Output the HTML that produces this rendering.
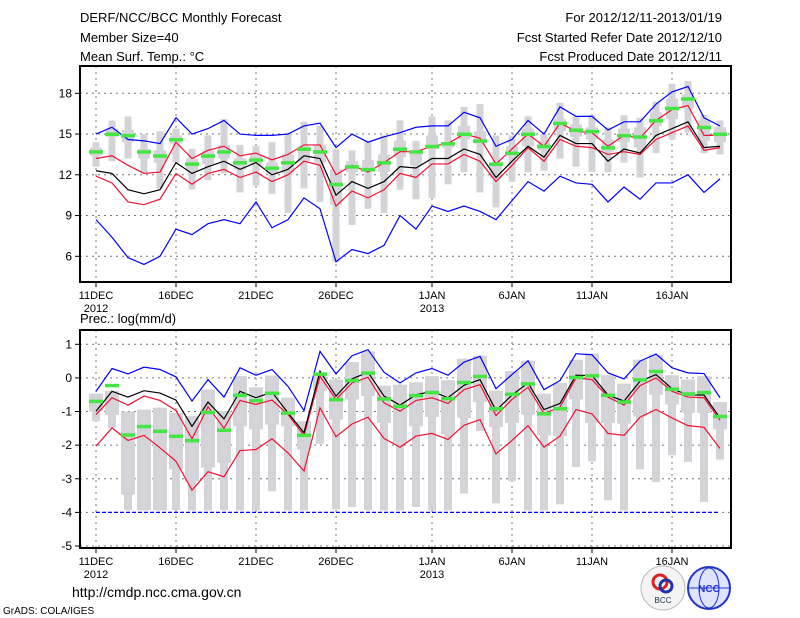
<!DOCTYPE html>
<html><head><meta charset="utf-8"><style>
body{margin:0;background:#fff;width:800px;height:618px;overflow:hidden}
svg{display:block;font-family:"Liberation Sans",sans-serif}
</style></head><body>
<svg id="c" width="800" height="618" viewBox="0 0 800 618">
<text x="80" y="22" font-size="13">DERF/NCC/BCC Monthly Forecast</text>
<text x="80" y="42" font-size="13">Member Size=40</text>
<text x="80" y="61" font-size="13">Mean Surf. Temp.: °C</text>
<text x="722" y="22" font-size="13" text-anchor="end">For 2012/12/11-2013/01/19</text>
<text x="722" y="42" font-size="13" text-anchor="end">Fcst Started Refer Date 2012/12/10</text>
<text x="722" y="61" font-size="13" text-anchor="end">Fcst Produced Date 2012/12/11</text>
<text x="80" y="323" font-size="13">Prec.: log(mm/d)</text>
<text x="72" y="597" font-size="14">http://cmdp.ncc.cma.gov.cn</text>
<text x="3" y="614" font-size="10">GrADS: COLA/IGES</text>
<g><circle cx="663" cy="588" r="22" fill="#f4f4f4" stroke="#bbb"/><circle cx="660" cy="582" r="7" fill="none" stroke="#d22" stroke-width="3"/><circle cx="666" cy="586" r="6" fill="none" stroke="#23a" stroke-width="3"/><text x="663" y="603" font-size="8" text-anchor="middle" fill="#234">BCC</text></g>
<g><circle cx="709" cy="588" r="21" fill="#dde4ff" stroke="#2233cc" stroke-width="2"/><ellipse cx="709" cy="588" rx="10" ry="20" fill="none" stroke="#2233cc"/><line x1="689" y1="588" x2="729" y2="588" stroke="#2233cc"/><text x="709" y="592" font-size="10" text-anchor="middle" fill="#2233cc" font-weight="bold">NCC</text></g>
<g id="g"></g>
</svg>
<script>
// ---- temperature panel data ----
const days=[...Array(40).keys()];
const xTickDays=[0,5,10,15,21,26,31,36];
const xTickLabels=["11DEC","16DEC","21DEC","26DEC","1JAN","6JAN","11JAN","16JAN"];
const yearLabels=[[0,"2012"],[21,"2013"]];
const tTicks=[6,9,12,15,18];
const tMax=[15.0,15.5,14.6,14.5,14.3,16.2,15.0,15.4,16.0,15.0,14.9,14.9,15.0,15.6,15.8,14.0,15.0,14.4,14.8,15.1,15.5,15.6,15.6,16.6,16.2,14.1,14.6,16.0,15.0,17.0,16.3,16.3,15.3,15.9,15.9,17.2,18.1,18.5,16.2,15.6];
const tMin=[8.7,7.4,5.9,5.4,6.0,8.0,7.6,8.4,8.7,8.4,10.0,8.1,8.7,10.3,9.5,5.6,6.5,6.2,6.8,9.0,8.0,9.7,9.3,9.7,9.3,8.7,10.1,11.5,10.8,11.9,11.4,11.3,10.0,11.1,10.2,11.4,11.4,12.0,10.7,11.7];
const tMean=[12.3,12.1,10.9,10.6,10.9,12.9,12.1,12.6,13.0,12.4,12.9,12.0,12.4,13.4,13.2,10.5,11.5,11.0,11.5,12.6,12.5,13.2,13.2,13.9,13.5,11.8,13.0,14.1,13.3,14.9,14.3,14.3,13.0,13.9,13.6,14.9,15.4,15.9,14.0,14.1];
const tUp=[13.2,13.4,12.7,12.1,12.2,14.4,13.2,13.8,14.1,13.4,13.6,13.1,13.5,14.2,14.2,12.0,12.7,12.2,12.9,13.7,13.7,14.1,14.3,15.0,14.7,12.8,13.9,15.0,14.1,15.8,15.2,15.1,14.1,14.9,14.7,16.0,16.8,17.1,14.9,14.9];
const tLo=[11.9,11.4,10.0,9.8,10.2,12.1,11.3,12.1,12.4,11.8,12.2,11.5,12.0,13.0,12.7,9.7,10.8,10.3,10.9,12.1,11.8,12.8,12.8,13.5,13.0,11.5,12.7,14.0,13.0,14.6,14.1,14.0,13.5,13.7,13.5,14.6,15.1,15.6,13.8,14.0];
const tGreen=[13.7,15.0,14.9,13.7,13.4,14.6,12.8,13.4,13.7,12.9,13.1,12.5,12.9,13.9,13.7,11.3,12.6,12.4,12.9,13.9,13.7,14.1,14.3,15.0,14.5,12.8,13.6,15.0,14.1,15.8,15.3,15.2,14.0,14.9,14.8,16.0,16.9,17.6,15.5,15.0];
const tBoxHi=[14.4,16.0,16.3,15.0,15.2,15.4,13.9,14.9,16.1,14.2,14.1,14.4,15.1,15.9,15.6,13.9,13.8,14.5,14.9,16.0,14.5,16.3,16.0,17.0,17.2,14.9,14.9,16.3,15.0,17.3,16.3,16.4,15.5,16.4,16.2,17.4,18.7,18.9,16.4,16.0];
const tBoxLo=[12.6,13.0,13.2,12.1,11.0,12.9,10.9,11.6,12.1,10.7,11.2,10.6,9.2,11.0,10.0,5.6,8.3,9.5,9.2,10.9,10.2,10.3,11.3,12.2,10.7,9.6,11.5,12.2,12.3,13.2,12.6,12.2,12.2,12.9,11.8,13.6,14.6,15.1,13.6,13.5];
const tQHi=[14.0,15.4,15.3,13.9,13.8,14.9,13.2,13.8,14.2,13.2,13.5,12.9,13.5,14.1,14.2,12.4,13.0,13.1,13.5,14.5,13.8,14.9,14.4,15.6,15.2,12.9,14.1,15.4,14.5,16.1,15.7,15.5,14.6,15.4,15.5,16.6,17.6,17.9,16.0,15.5];
const tQLo=[13.4,14.8,14.4,13.2,12.9,14.3,12.3,12.8,13.2,12.4,12.7,12.1,12.1,13.0,12.9,9.8,12.2,12.2,12.2,13.3,12.7,13.9,14.0,14.6,14.3,11.7,13.4,14.1,13.8,15.2,14.8,14.6,13.7,14.4,14.0,15.6,16.1,16.9,14.5,14.4];
// ---- precipitation panel data ----
const pTicks=[-5,-4,-3,-2,-1,0,1];
const pMax=[-0.4,0.28,0.12,0.32,0.25,0.03,-0.69,-0.05,-0.57,0.3,0.08,0.25,-0.25,-0.97,0.79,0.12,0.66,0.84,0.17,-0.15,0.15,0.28,0.08,0.47,0.64,-0.32,0.1,0.51,-0.35,-0.08,0.72,0.69,0.15,-0.03,0.5,0.71,0.3,0.15,0.13,-0.59];
const pMinLine=-4;
const pMean=[-0.99,-0.4,-0.57,-0.38,-0.45,-0.66,-1.44,-0.72,-1.22,-0.4,-0.59,-0.42,-1.04,-1.63,0.2,-0.54,-0.03,0.17,-0.54,-0.81,-0.5,-0.4,-0.59,-0.22,-0.05,-0.97,-0.51,-0.15,-0.94,-0.76,0.08,0.07,-0.51,-0.69,-0.1,0.1,-0.32,-0.51,-0.51,-1.19];
const pUp=[-1.09,-0.59,-0.81,-0.54,-0.67,-0.97,-1.81,-0.86,-1.5,-0.67,-0.79,-0.66,-1.09,-1.71,0.05,-0.64,-0.15,0.02,-0.74,-0.99,-0.67,-0.59,-0.76,-0.35,-0.2,-1.12,-0.64,-0.28,-1.06,-0.87,0,-0.05,-0.57,-0.81,-0.23,0,-0.4,-0.57,-0.59,-1.26];
const pLo=[-2.03,-1.49,-1.86,-1.71,-2.08,-2.48,-3.34,-2.79,-2.94,-2.16,-2.13,-1.81,-2.23,-2.77,-0.89,-1.75,-1.37,-1.17,-1.8,-2.06,-1.73,-1.65,-1.83,-1.41,-1.24,-2.26,-1.86,-1.42,-2.06,-1.73,-0.94,-1.07,-1.65,-1.71,-1.17,-0.94,-1.19,-1.42,-1.47,-2.1];
const pGreen=[-0.69,-0.22,-1.69,-1.44,-1.58,-1.73,-1.86,-1.02,-1.55,-0.51,-0.67,-0.45,-1.04,-1.7,0.12,-0.64,-0.07,0.15,-0.62,-0.84,-0.52,-0.43,-0.61,-0.13,0.05,-0.91,-0.48,-0.17,-1.06,-0.91,0.02,0.07,-0.51,-0.71,-0.05,0.2,-0.33,-0.47,-0.43,-1.14];
const pBoxHi=[-0.47,-0.38,-1.0,-0.94,-0.89,-1.04,-1.14,-0.35,-0.99,0.05,-0.28,0.07,-0.59,-1.29,0.12,-0.05,0.47,0.79,-0.23,-0.2,-0.13,0.05,-0.07,0.57,0.66,-0.38,0.2,0.51,-0.47,-0.15,0.54,0.72,0.08,-0.17,0.54,0.69,0.08,-0.05,0.05,-0.72];
const pBoxLo=[-1.29,-1.5,-3.94,-3.94,-3.94,-3.94,-3.94,-3.94,-3.94,-3.94,-3.94,-3.37,-3.94,-3.94,-1.96,-3.91,-3.84,-3.94,-3.94,-3.94,-3.84,-3.94,-3.94,-3.44,-1.58,-3.73,-3.07,-3.94,-3.94,-3.76,-2.65,-2.48,-3.64,-3.94,-2.72,-3.1,-2.3,-2.5,-3.69,-2.43];
const pQLo=[-1.0,-1.1,-3.47,-3.94,-3.94,-2.72,-3.07,-2.67,-2.52,-1.44,-1.53,-1.39,-1.44,-2.13,-0.38,-1.24,-0.64,-0.54,-1.34,-1.93,-1.44,-1.16,-1.68,-1.19,-0.72,-1.46,-1.34,-1.09,-1.71,-1.73,-0.64,-1.34,-1.34,-1.36,-1.14,-0.5,-0.79,-1.04,-1.04,-1.53];

const NS="http://www.w3.org/2000/svg";
const G=document.getElementById('g');
function mk(tag,attrs,parent){const e=document.createElementNS(NS,tag);for(const k in attrs)e.setAttribute(k,attrs[k]);(parent||G).appendChild(e);return e;}
const X0=80,X1=731;
const xs=d=>96+16*d;

function panel(name,top,bot,vmin,vmax,ticks){
  const ys=v=>bot-(v-vmin)/(vmax-vmin)*(bot-top);
  const g=mk('g',{});
  
  
  ticks.forEach(t=>{
    if(t>vmin&&t<vmax){const l=mk('line',{x1:X0,x2:X1,y1:ys(t),y2:ys(t),stroke:'#777','stroke-dasharray':'2,4'},g);
    
    }
    mk('line',{x1:X0-5,x2:X0,y1:ys(t),y2:ys(t),stroke:'#000'},g);
    const tx=mk('text',{x:X0-8,y:ys(t)+4,'font-size':12,'text-anchor':'end'},g);
    tx.textContent=t;
    
    
  });
  xTickDays.forEach((d,i)=>{
    const l=mk('line',{x1:xs(d),x2:xs(d),y1:top,y2:bot,stroke:'#777','stroke-dasharray':'2,4'},g);
    
    
    mk('line',{x1:xs(d),x2:xs(d),y1:bot,y2:bot+5,stroke:'#000'},g);
    const tx=mk('text',{x:xs(d),y:bot+17,'font-size':11,'text-anchor':'middle'},g);
    tx.textContent=xTickLabels[i];
    
    
  });
  yearLabels.forEach(([d,s])=>{
    const tx=mk('text',{x:xs(d),y:bot+30,'font-size':11,'text-anchor':'middle'},g);
    tx.textContent=s;
    
    
  });
  return {g,ys};
}
function boxes(p,hi,lo,qhi,qlo,wN,wW){
  days.forEach(d=>{
    const r=mk('rect',{x:xs(d)-wN/2,y:p.ys(hi[d]),width:wN,height:p.ys(lo[d])-p.ys(hi[d]),fill:'#d4d4d8'},p.g);
    
    
    const q=mk('rect',{x:xs(d)-wW/2,y:p.ys(qhi[d]),width:wW,height:p.ys(qlo[d])-p.ys(qhi[d]),fill:'#d4d4d8'},p.g);
    
    
  });
}
function line(p,arr,color,name){
  const pl=mk('polyline',{points:days.map(d=>xs(d)+','+p.ys(arr[d])).join(' '),fill:'none',stroke:color,'stroke-width':1.2},p.g);
  
  
}
function greens(p,arr){
  days.forEach(d=>{
    const r=mk('rect',{x:xs(d)-7,y:p.ys(arr[d])-1.5,width:14,height:3.5,fill:'#44e644'},p.g);
    
    
  });
}
function frame(p,top,bot){
  const f=mk('rect',{x:X0,y:top,width:X1-X0,height:bot-top,fill:'none',stroke:'#000','stroke-width':2},p.g);
  
  
}
// top panel: 18 at y=93.3, 6 at y=256.3
const T=panel('temperature-panel',66,282,18-(282-93.3)/13.583,18+(93.3-66)/13.583,tTicks);
boxes(T,tBoxHi,tBoxLo,tQHi,tQLo,7,12);
line(T,tMax,'#0000ff','temp-max-line');
line(T,tMin,'#0000ff','temp-min-line');
line(T,tUp,'#ee1133','temp-upper-line');
line(T,tLo,'#ee1133','temp-lower-line');
line(T,tMean,'#000000','temp-mean-line');
greens(T,tGreen);
frame(T,66,282);
// bottom panel: 1 at y=344.3, -5 at y=546
const P=panel('precip-panel',330,548,-5-(548-546)/33.62,1+(344.3-330)/33.62,pTicks);
boxes(P,pBoxHi,pBoxLo,pBoxHi,pQLo,8,14);
const ml=mk('line',{x1:xs(0),x2:xs(39),y1:P.ys(pMinLine),y2:P.ys(pMinLine),stroke:'#0000ff','stroke-dasharray':'4,2','stroke-width':1.2},P.g);


line(P,pMax,'#0000ff','precip-max-line');
line(P,pUp,'#ee1133','precip-upper-line');
line(P,pLo,'#ee1133','precip-lower-line');
line(P,pMean,'#000000','precip-mean-line');
greens(P,pGreen);
frame(P,330,548);
</script>
</body></html>
